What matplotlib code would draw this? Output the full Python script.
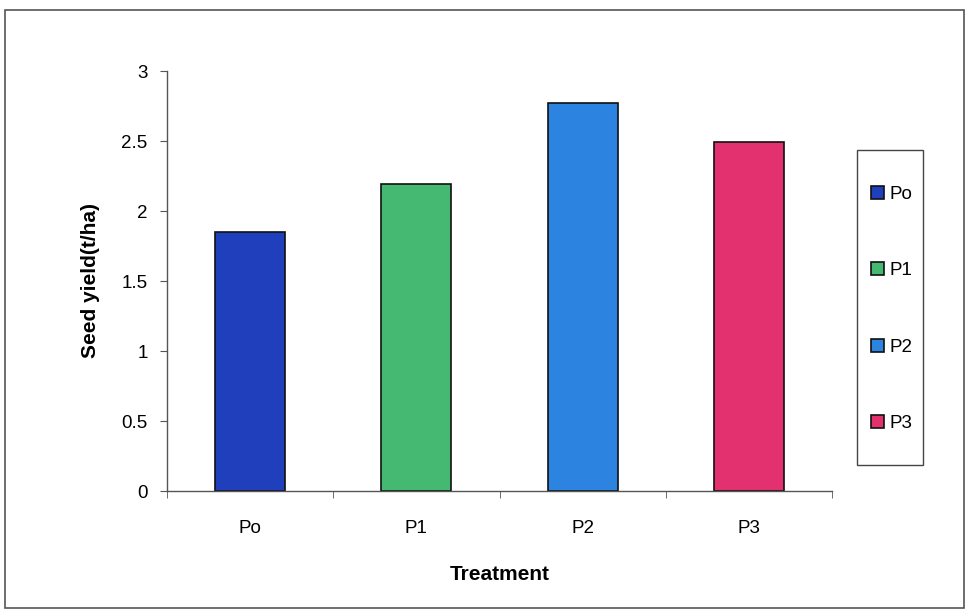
import matplotlib.pyplot as plt
from matplotlib.patches import Rectangle

plt.rcParams['font.family'] = ['Liberation Sans', 'DejaVu Sans']

treatments = ['Po', 'P1', 'P2', 'P3']
seed_yield = [1.85, 2.19, 2.77, 2.49]
colors = ['#1f3fbd', '#45b872', '#2c84e0', '#e3306f']
y_ticks = [0, 0.5, 1, 1.5, 2, 2.5, 3]
y_tick_labels = ['0', '0.5', '1', '1.5', '2', '2.5', '3']

W, H = 967, 610
fig = plt.figure(figsize=(W / 100, H / 100), dpi=100)
ax = fig.add_axes([167 / W, 1 - 491 / H, (832 - 167) / W, (491 - 71) / H])

xs = range(len(treatments))
bars = ax.bar(xs, seed_yield, width=0.42, color=colors, edgecolor='#111111', linewidth=1.2)

ax.set_xlim(-0.5, len(treatments) - 0.5)
ax.set_ylim(0, 3)
ax.set_yticks(y_ticks)
ax.set_yticklabels(y_tick_labels, fontsize=13.5)
ax.set_xticks(list(xs))
ax.set_xticklabels(treatments, fontsize=13.5)
ax.tick_params(axis='x', length=0, pad=21)
ax.set_xticks([i - 0.5 for i in range(len(treatments) + 1)], minor=True)
ax.tick_params(axis='x', which='minor', length=5, color='#555555', direction='out')
ax.tick_params(axis='y', length=5, color='#555555', pad=9)

for side in ['top', 'right']:
    ax.spines[side].set_visible(False)
for side in ['left', 'bottom']:
    ax.spines[side].set_color('#555555')
    ax.spines[side].set_linewidth(1.0)

ax.set_ylabel('Seed yield(t/ha)', fontsize=15, fontweight='bold', labelpad=15)
ax.set_xlabel('Treatment', fontsize=15, fontweight='bold', labelpad=20)

# legend box drawn by hand, entries placed inside it
fig.patches.append(Rectangle((857 / W, 1 - 465 / H), (923 - 857) / W, (465 - 150) / H,
                             transform=fig.transFigure, fill=False,
                             edgecolor='#444444', linewidth=1.0))
leg = fig.legend(bars, treatments, loc='center',
                 bbox_to_anchor=(892 / W, 1 - 309 / H),
                 fontsize=13.5, frameon=False,
                 handlelength=0.7, handleheight=0.7, handletextpad=0.3,
                 labelspacing=3.15, borderpad=0, borderaxespad=0)

# outer chart border
fig.patches.append(Rectangle((5 / W, 2 / H), 959 / W, 598 / H,
                             transform=fig.transFigure, fill=False,
                             edgecolor='#555555', linewidth=1.2))

fig.savefig('out.png', dpi=100)
